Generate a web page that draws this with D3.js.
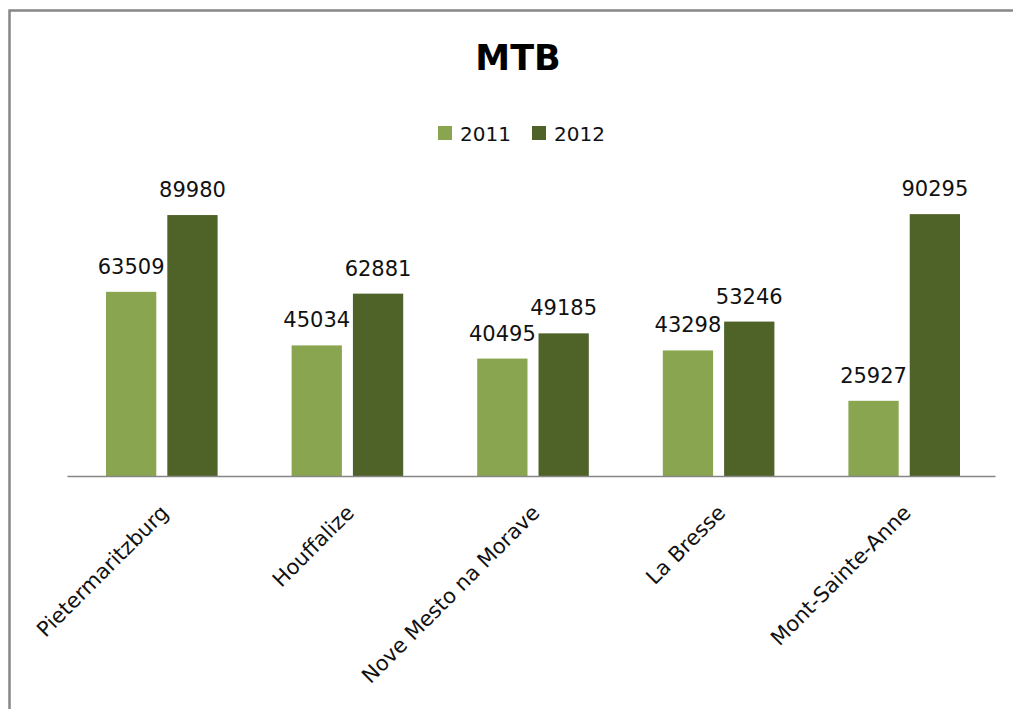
<!DOCTYPE html>
<meta charset="utf-8">
<head>
  <title>MTB</title>
</head>

<style>
body {
  margin: 0;
  background: #fff;
  font-family: "DejaVu Sans", sans-serif;
}
</style>

<body>
  <div id="content"></div>

  <script src="https://cdnjs.cloudflare.com/ajax/libs/d3/7.8.5/d3.min.js"></script>

  <script>
var categories = ['Pietermaritzburg', 'Houffalize', 'Nove Mesto na Morave', 'La Bresse', 'Mont-Sainte-Anne'];
var seriesNames = ['2011', '2012'];
var values2011 = [63509, 45034, 40495, 43298, 25927];
var values2012 = [89980, 62881, 49185, 53246, 90295];
var colors = ['#8aa54f', '#4f6228'];

var width = 1013, height = 709;

var svg = d3.select('#content').append('svg')
  .attr('width', width)
  .attr('height', height);

// chart frame (runs off the right and bottom edge)
svg.append('rect')
  .attr('x', 9.5).attr('y', 10.5)
  .attr('width', 1100).attr('height', 800)
  .attr('fill', 'none')
  .attr('stroke', '#878787')
  .attr('stroke-width', 2.5);

var x = d3.scaleBand()
  .domain(categories)
  .range([67, 995]);

var x1 = d3.scaleBand()
  .domain(seriesNames)
  .range([39, x.bandwidth() - 35])
  .paddingInner(0.18);

var y = d3.scaleLinear()
  .domain([0, 100000])
  .range([476, 186]);

var rows = categories.map(function(c, i) {
  return {cat: c, vals: [values2011[i], values2012[i]]};
});

// title
svg.append('text')
  .attr('x', 518).attr('y', 70)
  .attr('text-anchor', 'middle')
  .style('font-weight', 'bold')
  .style('font-size', '35px')
  .text('MTB');

// legend
var legend = svg.append('g');
var legX = [438, 532];
seriesNames.forEach(function(s, i) {
  legend.append('rect')
    .attr('x', legX[i]).attr('y', 126)
    .attr('width', 14).attr('height', 14)
    .attr('fill', colors[i]);
  legend.append('text')
    .attr('x', legX[i] + 22).attr('y', 141)
    .style('font-size', '20px')
    .attr('fill', '#111')
    .text(s);
});

// bars
var groups = svg.selectAll('g.cat')
  .data(rows)
  .enter().append('g')
  .attr('class', 'cat')
  .attr('transform', function(d) { return 'translate(' + x(d.cat) + ',0)'; });

groups.selectAll('rect')
  .data(function(d) { return d.vals.map(function(v, i) { return {s: seriesNames[i], v: v, i: i}; }); })
  .enter().append('rect')
  .attr('x', function(d) { return x1(d.s); })
  .attr('y', function(d) { return y(d.v); })
  .attr('width', x1.bandwidth())
  .attr('height', function(d) { return y(0) - y(d.v); })
  .attr('fill', function(d) { return colors[d.i]; });

groups.selectAll('text.val')
  .data(function(d) { return d.vals.map(function(v, i) { return {s: seriesNames[i], v: v}; }); })
  .enter().append('text')
  .attr('class', 'val')
  .attr('x', function(d) { return x1(d.s) + x1.bandwidth() / 2; })
  .attr('y', function(d) { return y(d.v) - 18; })
  .attr('text-anchor', 'middle')
  .style('font-size', '21px')
  .attr('fill', '#111')
  .text(function(d) { return d.v; });

// x axis
var xAxis = svg.append('g')
  .attr('transform', 'translate(0,' + y(0) + ')')
  .call(d3.axisBottom(x).tickSize(0).tickPadding(0));

xAxis.select('.domain')
  .attr('stroke', '#868686')
  .attr('stroke-width', 1.5);

xAxis.selectAll('.tick text')
  .attr('text-anchor', 'end')
  .attr('fill', '#111')
  .attr('font-family', null)
  .attr('font-size', null)
  .style('font-family', '"DejaVu Sans", sans-serif')
  .style('font-size', '21px')
  .attr('dy', 0)
  .attr('transform', 'translate(10,38) rotate(-45)');
  </script>
</body>
</html>
